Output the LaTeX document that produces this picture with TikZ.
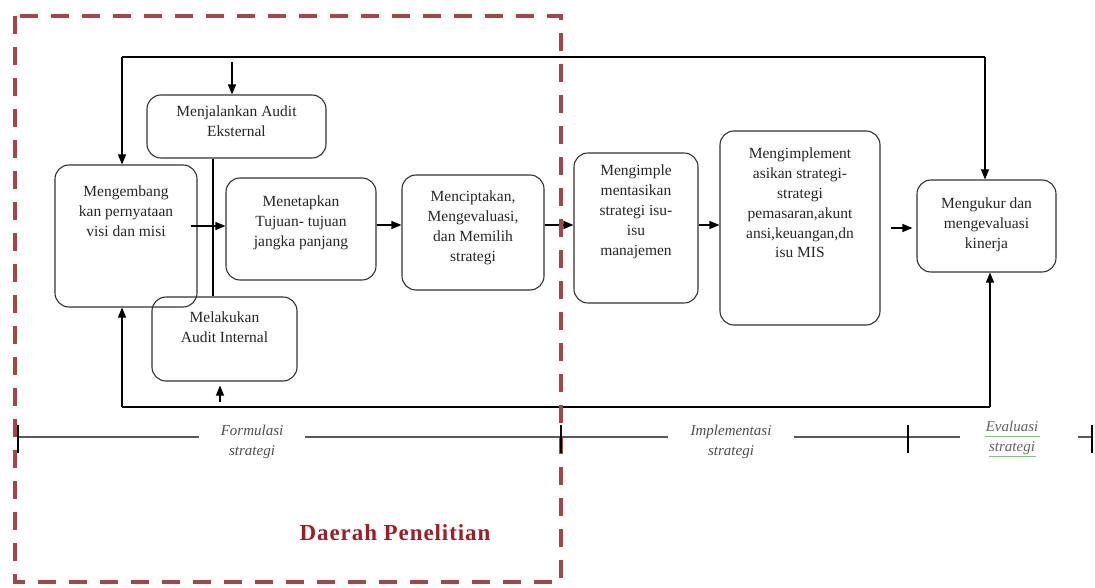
\documentclass[tikz,border=0pt]{standalone}
\usepackage{fontspec}
\setmainfont{Liberation Serif}
\usetikzlibrary{arrows.meta,calc}
\definecolor{dashred}{HTML}{A4454B}
\definecolor{titlered}{HTML}{9B1F24}
\definecolor{spellgreen}{HTML}{86BF84}
\begin{document}
\begin{tikzpicture}[x=1pt,y=-1pt,
  box/.style={draw=black!80, line width=1.1pt, rounded corners=14pt, inner sep=0pt},
  txt/.style={font=\fontsize{15.5}{19.8}\selectfont, align=center, anchor=north, inner sep=0pt, text=black!85},
  arr/.style={line width=1.1pt, -{Triangle[length=10pt,width=8pt]}},
  fb/.style={line width=1.1pt},
  tl/.style={line width=1.3pt, draw=black!65},
  tickmark/.style={line width=1.8pt},
  ttxt/.style={font=\fontsize{15}{20}\selectfont\itshape, align=center, text=black!70, inner sep=0pt},
  regionbox/.style={draw=dashred, line width=4pt, dash pattern=on 18pt off 13pt}]
\useasboundingbox (0,0) rectangle (1095,588);

% boxes
\node[box, minimum width=179pt, minimum height=63pt] (b1) at (236.5,126.5) {};
\node[box, minimum width=142pt, minimum height=142pt] (b2) at (126,236) {};
\node[box, minimum width=150pt, minimum height=102pt] (b3) at (301,229) {};
\node[box, minimum width=142pt, minimum height=115pt] (b4) at (473,232.5) {};
\node[box, minimum width=145pt, minimum height=84pt] (b5) at (224.5,339) {};
\node[box, minimum width=124pt, minimum height=150pt] (b6) at (636,228) {};
\node[box, minimum width=160pt, minimum height=194pt] (b7) at (800,228) {};
\node[box, minimum width=139pt, minimum height=92pt] (b8) at (986.5,226) {};

% texts
\node[txt] (t1) at (236.5,106) {Menjalankan Audit\\Eksternal};
\node[txt] (t2) at (126,186) {Mengembang\\kan pernyataan\\visi dan misi};
\node[txt] (t3) at (301,196) {Menetapkan\\Tujuan- tujuan\\jangka panjang};
\node[txt] (t4) at (473,191) {Menciptakan,\\Mengevaluasi,\\dan Memilih\\strategi};
\node[txt] (t5) at (224.5,312) {Melakukan\\Audit Internal};
\node[txt] (t6) at (636,165) {Mengimple\\mentasikan\\strategi isu-\\isu\\manajemen};
\node[txt] (t7) at (800,148) {Mengimplement\\asikan strategi-\\strategi\\pemasaran,akunt\\ansi,keuangan,dn\\isu MIS};
\node[txt] (t8) at (986.5,198) {Mengukur dan\\mengevaluasi\\kinerja};

% top feedback
\coordinate (topL) at (122,57);
\coordinate (topR) at (985,57);
\draw[fb] (topL) -- (topR);
\draw[arr] (topL) -- (topL |- b2.north);
\draw[arr] (topR) -- (topR |- b8.north);
\coordinate (e1) at (232,62);
\draw[arr] (e1) -- (e1 |- b1.north);

% vertical link between audits
\coordinate (v) at (213,0);
\draw[fb] (v |- b1.south) -- (v |- b5.north);

% main flow
\coordinate (h1) at (0,226);
\coordinate (h2) at (0,225);
\coordinate (h3) at (0,228);
\draw[arr] ($(b2.east |- h1)+(-7,0)$) -- (b3.west |- h1);
\draw[arr] (b3.east |- h2) -- (b4.west |- h2);
\draw[arr] (b4.east |- h2) -- (b6.west |- h2);
\draw[arr] (b6.east |- h2) -- (b7.west |- h2);
\draw[arr] ($(b7.east |- h3)+(10,0)$) -- ($(b8.west |- h3)+(-4,0)$);

% bottom feedback
\coordinate (botL) at (122,407);
\coordinate (botR) at (990,407);
\draw[fb] (botL) -- (botR);
\draw[arr] (botL) -- (botL |- b2.south);
\draw[arr] (botR) -- (botR |- b8.south);
\coordinate (s1) at (220,402);
\draw[arr] (s1) -- ($(s1 |- b5.south)+(0,4)$);

% research region
\draw[regionbox] (15,16) rectangle (561,582);
\node[font=\fontsize{23}{26}\selectfont\bfseries\addfontfeatures{LetterSpace=4}, text=titlered] (region) at (395,533) {Daerah Penelitian};

% timeline
\coordinate (tk0) at (18,437);
\coordinate (tk1) at (561,437);
\coordinate (tk2) at (908,437);
\coordinate (tk3) at (1092,437);
\node[ttxt] (form) at (252,442) {Formulasi\\strategi};
\node[ttxt] (impl) at (731,442) {Implementasi\\strategi};
\node[ttxt, text=black!62] (eval) at (1012,438) {Evaluasi\\strategi};
\draw[spellgreen, line width=1pt] (985,436) -- (1040,436) (989,456) -- (1036,456);
\draw[tl] (tk0) -- ($(form.west |- tk0)+(-22,0)$);
\draw[tl] ($(form.east |- tk0)+(22,0)$) -- ($(impl.west |- tk0)+(-22,0)$);
\draw[tl] ($(impl.east |- tk0)+(22,0)$) -- ($(eval.west |- tk0)+(-26,0)$);
\draw[tl] ($(eval.east |- tk0)+(40,0)$) -- (tk3);
\foreach \t in {tk0,tk1,tk2,tk3}
  \draw[tickmark] ($(\t)+(0,-12)$) -- ($(\t)+(0,16)$);
\end{tikzpicture}
\end{document}
